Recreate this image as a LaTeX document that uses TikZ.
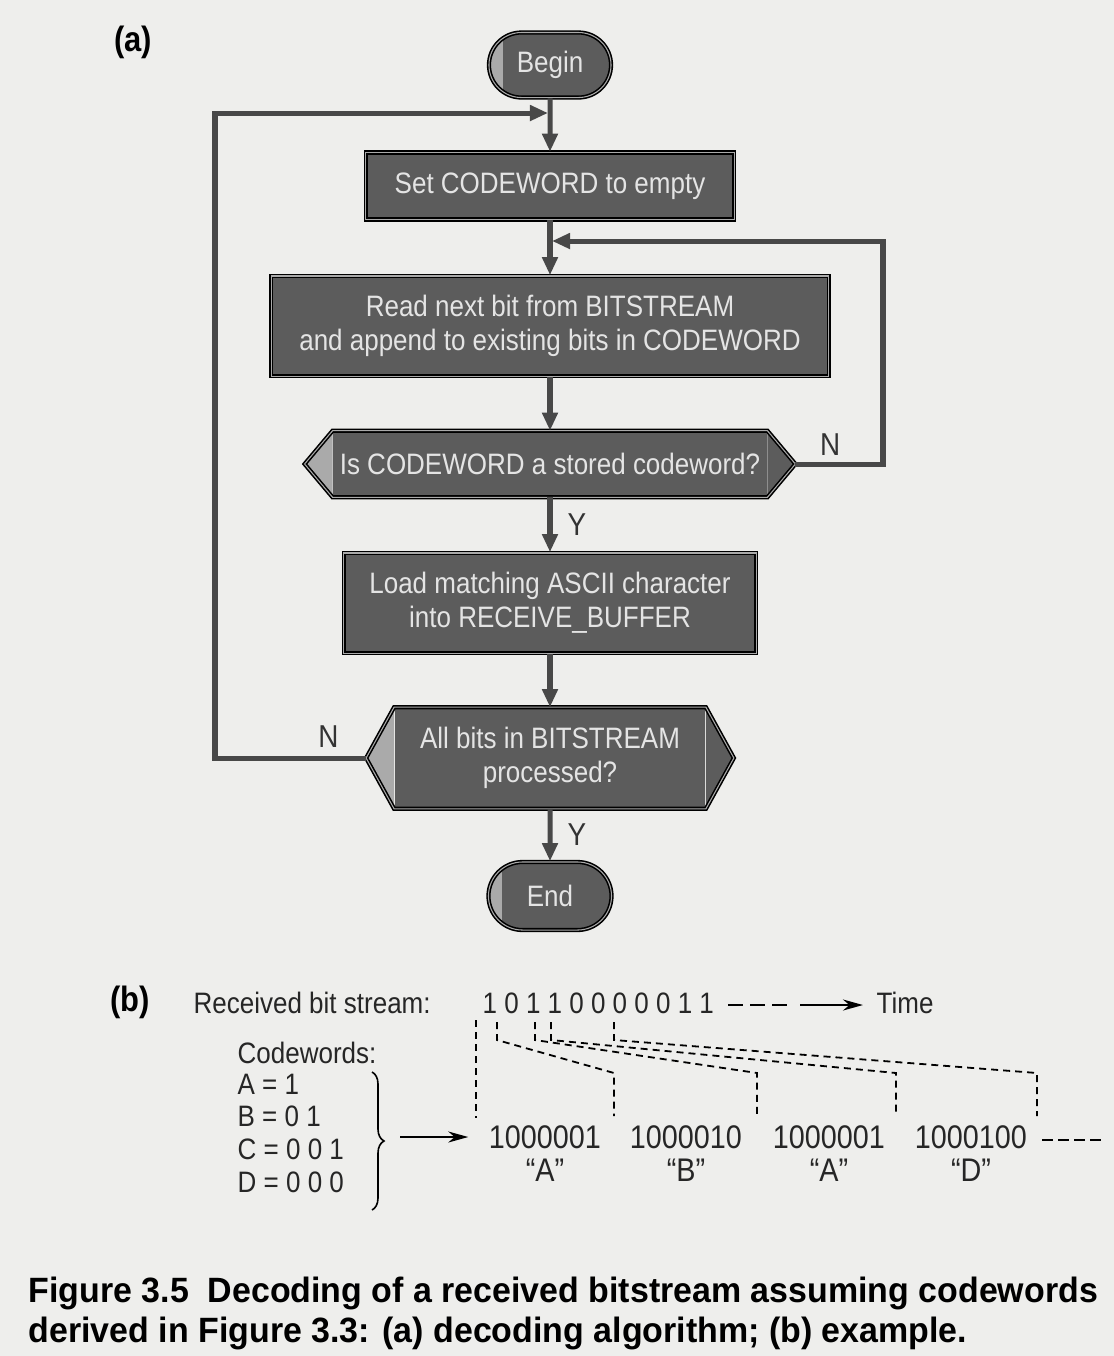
\documentclass[tikz,border=0pt]{standalone}
\usepackage{fontspec}
\newfontfamily\diafont[FakeStretch=0.88]{Liberation Sans}
\newfontfamily\capfont[FakeStretch=0.965]{Liberation Sans}
\usetikzlibrary{arrows.meta,positioning,shapes.misc,calc,decorations.pathreplacing}
\definecolor{Paper}{RGB}{238,238,236}
\definecolor{BoxFill}{RGB}{92,92,92}
\definecolor{BoxLite}{RGB}{170,170,170}
\definecolor{BoxText}{RGB}{228,228,228}
\definecolor{FlowLine}{RGB}{72,72,72}
\tikzset{
  boxline/.style={draw=black, line width=0.45pt, double=BoxLite, double distance=0.3pt},
  procbox/.style={boxline, fill=BoxFill, text=BoxText, align=center, inner sep=0pt,
    font=\diafont\fontsize{8.4}{9.7}\selectfont},
  termbox/.style={procbox, rounded rectangle,
    path picture={\fill[BoxLite] (path picture bounding box.south west)
      rectangle ([xshift=0.14cm]path picture bounding box.north west);}},
  askbox/.style={procbox, draw=none},
  flow/.style={draw=FlowLine, line width=0.05cm, -{Triangle[length=0.18cm,width=0.15cm]}},
  yn/.style={font=\diafont\fontsize{9}{9}\selectfont, text=black!80, inner sep=0pt},
  tag/.style={font=\diafont\bfseries\fontsize{10}{10}\selectfont, inner sep=0pt},
  plain/.style={font=\diafont\fontsize{8.4}{9.3}\selectfont, inner sep=0pt, text=black!85},
  code/.style={plain, font=\diafont\fontsize{9.3}{9.3}\selectfont},
  capt/.style={font=\capfont\bfseries\fontsize{10}{12}\selectfont, inner sep=0pt},
  bitdash/.style={line width=0.018cm, dash pattern=on 0.07cm off 0.05cm},
  thinarrow/.style={line width=0.02cm, -{Stealth[length=0.2cm,width=0.11cm]}}
}
\begin{document}
\begin{tikzpicture}[x=0.01cm, y=-0.01cm]
  \useasboundingbox (0,0) rectangle (1114,1356);
  \fill[Paper] (0,0) rectangle (1114,1356);

  % (a) flowchart
  \node[tag] (ta) at (133,42) {(a)};
  \node[termbox, minimum width=1.22cm, minimum height=0.65cm] (start) at (550,65) {Begin};
  \node[procbox, minimum width=3.68cm, minimum height=0.67cm] (setcw) at (550,186) {Set CODEWORD to empty};
  \node[procbox, minimum width=5.57cm, minimum height=1.00cm] (read) at (550,326)
    {Read next bit from BITSTREAM\\and append to existing bits in CODEWORD};
  \node[askbox, minimum width=4.33cm, minimum height=0.65cm] (q1) at (550,464) {Is CODEWORD a stored codeword?};
  \node[procbox, minimum width=4.12cm, minimum height=1.00cm] (load) at (550,603)
    {Load matching ASCII character\\into RECEIVE\_BUFFER};
  \node[askbox, minimum width=3.10cm, minimum height=1.00cm] (q2) at (550,758) {All bits in BITSTREAM\\processed?};
  \node[termbox, minimum width=1.23cm, minimum height=0.68cm] (stop) at (550,896) {End};

  % hexagon ends of the two questions
  \foreach \q in {q1,q2} {
    \coordinate (\q-l) at ($(\q.west)+(-28,0)$);
    \coordinate (\q-r) at ($(\q.east)+(28,0)$);
    \fill[BoxLite] (\q-l) -- (\q.north west) -- (\q.south west) -- cycle;
    \fill[BoxFill] (\q-r) -- (\q.north east) -- (\q.south east) -- cycle;
    \draw[boxline] (\q-l) -- (\q.north west) -- (\q.north east) -- (\q-r)
      -- (\q.south east) -- (\q.south west) -- cycle;
  }

  \draw[flow] (start) -- (setcw);
  \draw[flow] (setcw) -- (read);
  \draw[flow] (read) -- (q1);
  \draw[flow] (q1) -- node[yn, right=0.15cm] (yes1) {Y} (load);
  \draw[flow] (load) -- (q2);
  \draw[flow] (q2) -- node[yn, right=0.15cm] (yes2) {Y} (stop);

  % loops back
  \coordinate (j1) at (550,113);
  \coordinate (lk) at (215,113);
  \draw[flow, shorten >=0.02cm] (q2-l) -| (lk) -- (j1);
  \node[yn, above left=0.1cm and 0.27cm of q2-l] (no2) {N};
  \coordinate (j2) at (550,241);
  \coordinate (rk) at (883,241);
  \draw[flow, shorten >=0.02cm] (q1-r) -| (rk) -- (j2);
  \node[yn, above right=0.08cm and 0.24cm of q1-r] (no1) {N};

  % (b) example
  \node[tag] (tb) at (130,1002) {(b)};
  \node[plain, anchor=west] (rbs) at (193,1003) {Received bit stream:};
  \node[plain, anchor=west] (bits) at (482,1003) {1 0 1 1 0 0 0 0 0 1 1};
  \coordinate (dd1) at (728,1005);
  \coordinate (dd2) at (790,1005);
  \draw[line width=0.018cm, dash pattern=on 0.15cm off 0.07cm] (dd1) -- (dd2);
  \coordinate (tarr) at (800,1005);
  \node[plain, anchor=west] (time) at (876,1003) {Time};
  \draw[thinarrow, shorten >=0.13cm] (tarr) -- (time.west |- tarr);

  \foreach \x/\code/\ch [count=\i] in {545/1000001/A, 686/1000010/B, 829/1000001/A, 971/1000100/D} {
    \node[code] (c\i) at (\x,1137) {\code};
    \node[code] (l\i) at (\x,1170) {“\ch”};
  }
  \coordinate (td1) at (1042,1140);
  \coordinate (td2) at (1105,1140);
  \draw[line width=0.015cm, dash pattern=on 0.11cm off 0.05cm] (td1) -- (td2);

  % dashed leaders from the bits to the codes
  \coordinate (tk0) at (476,1020);
  \coordinate (cb0) at (476,1118);
  \draw[bitdash] (tk0) -- (cb0);
  \foreach \s/\e [count=\i] in {497/614, 535/757, 551/896, 614/1037} {
    \coordinate (tk\i) at (\s,1022);
    \coordinate (cb\i) at (\e,1116);
    \draw[bitdash] (tk\i) -- ($(tk\i)+(0,18)$) -- ($(cb\i)+(0,-43)$) -- (cb\i);
  }

  % codewords
  \node[plain, anchor=west] (cwh) at (237,1053) {Codewords:};
  \node[plain, anchor=north west, align=left] (cwl) at (237,1073) {A = 1\\B = 0 1\\C = 0 0 1\\D = 0 0 0};
  \draw[line width=0.016cm, decorate, decoration={brace, amplitude=0.12cm}] (372,1072) -- (372,1210);
  \coordinate (cwtip) at (400,1137);
  \draw[thinarrow, shorten >=0.2cm] (cwtip) -- (c1.west);

  % caption
  \node[capt, anchor=base west] (cap1) at (28,1302) {Figure 3.5\ \ Decoding of a received bitstream assuming codewords};
  \node[capt, anchor=base west] (cap2) at ([yshift=-0.4cm]cap1.base west) {derived in Figure 3.3: (a) decoding algorithm; (b) example.};
\end{tikzpicture}
\end{document}
